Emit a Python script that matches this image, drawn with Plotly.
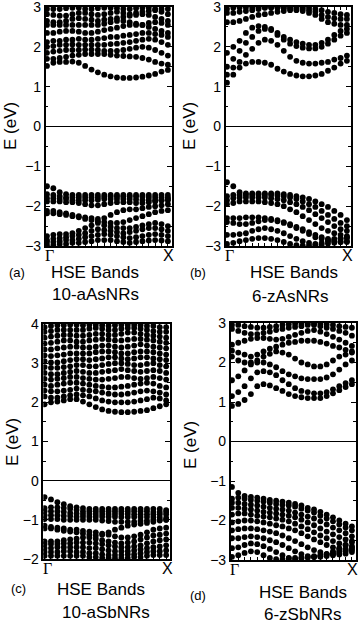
import plotly.graph_objects as go

# k-point index along Gamma -> X
k = list(range(20))

# (a) 10-aAsNRs
a_cond = [
    [1.52, 1.60, 1.62, 1.62, 1.63, 1.60, 1.52, 1.43, 1.36, 1.30, 1.26, 1.23, 1.22, 1.22, 1.23, 1.25, 1.28, 1.32, 1.38, 1.42],
    [1.70, 1.70, 1.72, 1.75, 1.78, 1.80, 1.82, 1.82, 1.82, 1.82, 1.80, 1.78, 1.77, 1.76, 1.75, 1.72, 1.68, 1.62, 1.58, 1.55],
    [1.85, 1.88, 1.90, 1.92, 1.92, 1.92, 1.93, 1.93, 1.92, 1.90, 1.90, 1.90, 1.92, 1.95, 1.98, 2.00, 1.98, 1.92, 1.85, 1.78],
    [2.00, 2.02, 2.05, 2.05, 2.06, 2.05, 2.05, 2.05, 2.05, 2.05, 2.07, 2.08, 2.10, 2.12, 2.15, 2.18, 2.20, 2.18, 2.12, 2.05],
    [2.12, 2.15, 2.15, 2.18, 2.18, 2.20, 2.18, 2.18, 2.20, 2.22, 2.25, 2.25, 2.28, 2.30, 2.32, 2.35, 2.35, 2.32, 2.30, 2.25],
    [2.35, 2.35, 2.38, 2.40, 2.40, 2.38, 2.35, 2.35, 2.38, 2.42, 2.45, 2.48, 2.52, 2.55, 2.55, 2.55, 2.50, 2.45, 2.40, 2.35],
    [2.55, 2.55, 2.55, 2.55, 2.55, 2.55, 2.55, 2.55, 2.55, 2.58, 2.62, 2.65, 2.65, 2.62, 2.58, 2.55, 2.60, 2.62, 2.60, 2.55],
    [2.65, 2.62, 2.62, 2.65, 2.70, 2.72, 2.70, 2.68, 2.65, 2.68, 2.70, 2.72, 2.75, 2.78, 2.80, 2.82, 2.80, 2.75, 2.70, 2.65],
    [2.82, 2.80, 2.78, 2.78, 2.82, 2.85, 2.85, 2.82, 2.80, 2.82, 2.85, 2.88, 2.85, 2.82, 2.85, 2.88, 2.90, 2.92, 2.88, 2.82],
    [2.95, 2.95, 2.95, 2.97, 2.98, 2.98, 2.95, 2.95, 2.97, 2.98, 2.98, 2.97, 2.95, 2.95, 2.97, 2.98, 2.98, 2.95, 2.95, 2.95],
]
a_val = [
    [-1.50, -1.55, -1.65, -1.70, -1.72, -1.72, -1.72, -1.72, -1.72, -1.72, -1.72, -1.72, -1.72, -1.72, -1.72, -1.72, -1.72, -1.72, -1.72, -1.72],
    [-1.70, -1.72, -1.75, -1.78, -1.78, -1.78, -1.78, -1.78, -1.78, -1.77, -1.76, -1.76, -1.76, -1.76, -1.76, -1.76, -1.78, -1.78, -1.78, -1.78],
    [-1.80, -1.80, -1.82, -1.82, -1.85, -1.85, -1.85, -1.85, -1.84, -1.82, -1.82, -1.82, -1.82, -1.82, -1.83, -1.84, -1.85, -1.85, -1.85, -1.85],
    [-1.88, -1.88, -1.88, -1.90, -1.90, -1.92, -1.95, -1.98, -1.98, -1.95, -1.92, -1.90, -1.90, -1.90, -1.92, -1.92, -1.90, -1.88, -1.85, -1.82],
    [-2.12, -2.12, -2.15, -2.18, -2.22, -2.25, -2.28, -2.30, -2.32, -2.30, -2.22, -2.15, -2.10, -2.08, -2.08, -2.05, -2.02, -2.00, -1.98, -1.95],
    [-2.18, -2.18, -2.20, -2.22, -2.25, -2.28, -2.32, -2.35, -2.38, -2.40, -2.42, -2.42, -2.40, -2.35, -2.30, -2.25, -2.20, -2.15, -2.12, -2.10],
    [-2.75, -2.72, -2.70, -2.70, -2.68, -2.62, -2.55, -2.48, -2.42, -2.48, -2.52, -2.55, -2.55, -2.55, -2.52, -2.48, -2.45, -2.42, -2.45, -2.50],
    [-2.85, -2.82, -2.80, -2.78, -2.75, -2.72, -2.68, -2.62, -2.58, -2.60, -2.62, -2.65, -2.68, -2.65, -2.62, -2.58, -2.55, -2.55, -2.58, -2.62],
    [-2.90, -2.90, -2.88, -2.85, -2.85, -2.82, -2.78, -2.75, -2.72, -2.70, -2.72, -2.75, -2.78, -2.80, -2.78, -2.75, -2.72, -2.70, -2.72, -2.75],
    [-2.98, -2.98, -2.95, -2.95, -2.92, -2.92, -2.90, -2.88, -2.85, -2.85, -2.85, -2.88, -2.90, -2.92, -2.90, -2.88, -2.86, -2.85, -2.86, -2.88],
]

# (b) 6-zAsNRs
b_cond = [
    [1.10, 1.30, 1.48, 1.58, 1.62, 1.62, 1.60, 1.55, 1.45, 1.38, 1.32, 1.28, 1.26, 1.26, 1.28, 1.32, 1.40, 1.48, 1.58, 1.65],
    [1.30, 1.48, 1.62, 1.80, 1.95, 2.10, 2.18, 2.15, 2.05, 1.90, 1.75, 1.65, 1.60, 1.58, 1.58, 1.60, 1.62, 1.68, 1.72, 1.78],
    [1.50, 1.70, 1.90, 2.10, 2.25, 2.40, 2.45, 2.42, 2.30, 2.18, 2.08, 2.02, 1.98, 1.96, 1.96, 2.00, 2.08, 2.18, 2.28, 2.35],
    [1.85, 2.00, 2.15, 2.35, 2.48, 2.52, 2.50, 2.45, 2.35, 2.25, 2.18, 2.12, 2.08, 2.05, 2.05, 2.10, 2.18, 2.30, 2.40, 2.45],
    [2.62, 2.62, 2.65, 2.70, 2.75, 2.80, 2.82, 2.85, 2.88, 2.90, 2.92, 2.92, 2.90, 2.85, 2.80, 2.70, 2.62, 2.58, 2.55, 2.55],
    [2.85, 2.85, 2.88, 2.90, 2.92, 2.95, 2.98, 2.99, 2.98, 2.97, 2.96, 2.95, 2.95, 2.92, 2.88, 2.80, 2.75, 2.72, 2.70, 2.70],
    [2.95, 2.98, 2.99, 2.99, 2.99, 2.99, 2.99, 2.99, 2.99, 2.99, 2.99, 2.99, 2.99, 2.98, 2.95, 2.92, 2.88, 2.85, 2.82, 2.80],
]
b_val = [
    [-1.40, -1.50, -1.65, -1.68, -1.68, -1.68, -1.68, -1.68, -1.68, -1.70, -1.72, -1.75, -1.78, -1.82, -1.88, -1.95, -2.02, -2.12, -2.22, -2.35],
    [-1.75, -1.72, -1.72, -1.72, -1.72, -1.72, -1.72, -1.72, -1.73, -1.75, -1.78, -1.82, -1.88, -1.95, -2.02, -2.12, -2.22, -2.32, -2.42, -2.50],
    [-1.85, -1.80, -1.78, -1.78, -1.78, -1.78, -1.78, -1.80, -1.82, -1.85, -1.90, -1.95, -2.02, -2.10, -2.20, -2.30, -2.40, -2.50, -2.58, -2.62],
    [-1.95, -1.92, -1.88, -1.88, -1.88, -1.88, -1.90, -1.92, -1.95, -2.00, -2.08, -2.15, -2.25, -2.35, -2.45, -2.55, -2.62, -2.68, -2.72, -2.75],
    [-2.30, -2.30, -2.30, -2.28, -2.28, -2.28, -2.30, -2.32, -2.35, -2.40, -2.48, -2.55, -2.62, -2.70, -2.78, -2.82, -2.85, -2.88, -2.90, -2.90],
    [-2.40, -2.42, -2.45, -2.45, -2.42, -2.38, -2.35, -2.35, -2.38, -2.42, -2.45, -2.52, -2.58, -2.65, -2.72, -2.78, -2.82, -2.82, -2.80, -2.78],
    [-2.72, -2.72, -2.70, -2.68, -2.62, -2.58, -2.55, -2.58, -2.62, -2.68, -2.75, -2.82, -2.88, -2.92, -2.95, -2.92, -2.88, -2.85, -2.82, -2.80],
    [-2.95, -2.92, -2.88, -2.85, -2.82, -2.80, -2.80, -2.82, -2.85, -2.90, -2.95, -2.98, -2.99, -2.99, -2.98, -2.96, -2.94, -2.92, -2.90, -2.88],
]

# (c) 10-aSbNRs
c_cond = [
    [1.95, 2.00, 2.02, 2.05, 2.08, 2.08, 2.02, 1.95, 1.88, 1.82, 1.78, 1.76, 1.75, 1.75, 1.76, 1.78, 1.80, 1.85, 1.90, 1.95],
    [2.15, 2.12, 2.12, 2.15, 2.18, 2.20, 2.18, 2.15, 2.10, 2.05, 2.02, 2.00, 2.00, 2.00, 2.02, 2.05, 2.08, 2.12, 2.10, 2.05],
    [2.30, 2.28, 2.28, 2.30, 2.32, 2.35, 2.32, 2.30, 2.28, 2.25, 2.22, 2.20, 2.20, 2.22, 2.25, 2.28, 2.30, 2.28, 2.25, 2.20],
    [2.45, 2.42, 2.45, 2.48, 2.50, 2.50, 2.48, 2.45, 2.42, 2.40, 2.38, 2.38, 2.40, 2.42, 2.45, 2.48, 2.50, 2.48, 2.42, 2.38],
    [2.60, 2.58, 2.60, 2.62, 2.65, 2.65, 2.62, 2.60, 2.58, 2.58, 2.60, 2.62, 2.65, 2.65, 2.62, 2.60, 2.62, 2.65, 2.62, 2.58],
    [2.75, 2.72, 2.72, 2.75, 2.78, 2.80, 2.78, 2.75, 2.75, 2.78, 2.80, 2.82, 2.85, 2.82, 2.80, 2.78, 2.80, 2.82, 2.80, 2.75],
    [2.90, 2.88, 2.88, 2.90, 2.92, 2.95, 2.95, 2.92, 2.92, 2.95, 2.98, 3.00, 3.00, 2.98, 2.95, 2.95, 2.98, 3.00, 2.95, 2.92],
    [3.05, 3.02, 3.02, 3.05, 3.08, 3.10, 3.10, 3.08, 3.10, 3.12, 3.15, 3.15, 3.12, 3.10, 3.12, 3.15, 3.15, 3.12, 3.10, 3.08],
    [3.20, 3.18, 3.20, 3.22, 3.25, 3.25, 3.25, 3.25, 3.28, 3.30, 3.30, 3.28, 3.25, 3.25, 3.28, 3.30, 3.30, 3.28, 3.25, 3.22],
    [3.35, 3.35, 3.38, 3.40, 3.42, 3.42, 3.40, 3.40, 3.42, 3.45, 3.45, 3.42, 3.40, 3.42, 3.45, 3.48, 3.45, 3.42, 3.40, 3.38],
    [3.50, 3.52, 3.55, 3.58, 3.58, 3.55, 3.55, 3.58, 3.60, 3.62, 3.60, 3.58, 3.58, 3.60, 3.62, 3.62, 3.60, 3.58, 3.55, 3.52],
    [3.65, 3.68, 3.70, 3.72, 3.72, 3.70, 3.70, 3.72, 3.75, 3.75, 3.72, 3.72, 3.75, 3.78, 3.78, 3.75, 3.72, 3.70, 3.68, 3.65],
    [3.80, 3.82, 3.85, 3.85, 3.85, 3.85, 3.85, 3.88, 3.90, 3.88, 3.85, 3.85, 3.88, 3.90, 3.90, 3.88, 3.85, 3.82, 3.80, 3.80],
    [3.92, 3.95, 3.97, 3.97, 3.98, 3.98, 3.97, 3.98, 3.98, 3.97, 3.95, 3.97, 3.98, 3.98, 3.98, 3.97, 3.95, 3.95, 3.92, 3.92],
]
c_val = [
    [-0.42, -0.48, -0.55, -0.60, -0.65, -0.68, -0.70, -0.72, -0.72, -0.72, -0.72, -0.72, -0.72, -0.72, -0.72, -0.72, -0.72, -0.72, -0.72, -0.75],
    [-0.70, -0.68, -0.68, -0.70, -0.72, -0.75, -0.78, -0.78, -0.78, -0.78, -0.78, -0.78, -0.78, -0.78, -0.78, -0.78, -0.78, -0.80, -0.80, -0.80],
    [-0.78, -0.78, -0.78, -0.80, -0.82, -0.84, -0.85, -0.85, -0.85, -0.85, -0.85, -0.85, -0.85, -0.85, -0.86, -0.86, -0.86, -0.86, -0.86, -0.86],
    [-0.88, -0.88, -0.88, -0.90, -0.90, -0.92, -0.92, -0.92, -0.92, -0.92, -0.92, -0.92, -0.93, -0.93, -0.93, -0.93, -0.93, -0.93, -0.94, -0.95],
    [-0.98, -0.98, -0.98, -1.00, -1.00, -1.00, -1.00, -1.00, -1.00, -1.02, -1.03, -1.05, -1.05, -1.05, -1.05, -1.03, -1.02, -1.00, -1.00, -1.00],
    [-1.22, -1.22, -1.25, -1.28, -1.30, -1.32, -1.35, -1.38, -1.40, -1.38, -1.32, -1.25, -1.20, -1.15, -1.12, -1.10, -1.08, -1.05, -1.02, -1.00],
    [-1.15, -1.18, -1.20, -1.22, -1.25, -1.25, -1.28, -1.30, -1.32, -1.35, -1.38, -1.42, -1.45, -1.45, -1.42, -1.38, -1.32, -1.25, -1.22, -1.20],
    [-1.55, -1.55, -1.55, -1.52, -1.50, -1.48, -1.45, -1.45, -1.48, -1.52, -1.55, -1.58, -1.60, -1.58, -1.55, -1.50, -1.45, -1.40, -1.38, -1.35],
    [-1.62, -1.62, -1.62, -1.60, -1.60, -1.58, -1.58, -1.58, -1.60, -1.62, -1.65, -1.68, -1.70, -1.70, -1.68, -1.65, -1.60, -1.55, -1.52, -1.50],
    [-1.72, -1.72, -1.70, -1.70, -1.70, -1.70, -1.70, -1.72, -1.72, -1.75, -1.78, -1.80, -1.80, -1.80, -1.78, -1.75, -1.72, -1.70, -1.68, -1.65],
    [-1.82, -1.82, -1.82, -1.80, -1.80, -1.82, -1.82, -1.85, -1.85, -1.88, -1.90, -1.90, -1.90, -1.88, -1.88, -1.85, -1.82, -1.80, -1.80, -1.78],
    [-1.92, -1.92, -1.92, -1.92, -1.92, -1.92, -1.92, -1.95, -1.95, -1.97, -1.98, -1.98, -1.98, -1.97, -1.95, -1.95, -1.92, -1.90, -1.90, -1.90],
]

# (d) 6-zSbNRs
d_cond = [
    [0.90, 0.95, 1.05, 1.20, 1.40, 1.45, 1.42, 1.35, 1.28, 1.20, 1.15, 1.12, 1.10, 1.10, 1.10, 1.15, 1.22, 1.30, 1.38, 1.45],
    [1.15, 1.25, 1.40, 1.60, 1.75, 1.78, 1.75, 1.68, 1.55, 1.45, 1.35, 1.28, 1.25, 1.22, 1.22, 1.25, 1.32, 1.40, 1.48, 1.55],
    [1.55, 1.65, 1.80, 1.95, 2.00, 2.00, 1.95, 1.88, 1.78, 1.70, 1.65, 1.60, 1.58, 1.58, 1.58, 1.62, 1.70, 1.82, 1.95, 2.05],
    [2.15, 2.05, 2.00, 2.00, 2.05, 2.15, 2.22, 2.28, 2.25, 2.20, 2.10, 2.00, 1.95, 1.90, 1.90, 1.95, 2.05, 2.15, 2.20, 2.25],
    [2.30, 2.25, 2.20, 2.15, 2.20, 2.28, 2.35, 2.40, 2.45, 2.50, 2.52, 2.55, 2.55, 2.55, 2.52, 2.48, 2.42, 2.38, 2.32, 2.28],
    [2.45, 2.50, 2.55, 2.60, 2.62, 2.62, 2.60, 2.58, 2.60, 2.65, 2.70, 2.75, 2.80, 2.82, 2.78, 2.72, 2.65, 2.58, 2.50, 2.42],
    [2.85, 2.80, 2.75, 2.72, 2.72, 2.75, 2.78, 2.82, 2.85, 2.88, 2.90, 2.92, 2.95, 2.95, 2.92, 2.88, 2.85, 2.80, 2.75, 2.68],
    [2.95, 2.95, 2.92, 2.90, 2.88, 2.88, 2.90, 2.92, 2.95, 2.97, 2.98, 2.98, 2.98, 2.98, 2.98, 2.96, 2.95, 2.92, 2.90, 2.88],
]
d_val = [
    [-1.15, -1.30, -1.38, -1.40, -1.42, -1.45, -1.48, -1.50, -1.52, -1.55, -1.58, -1.62, -1.68, -1.72, -1.78, -1.85, -1.92, -2.00, -2.08, -2.15],
    [-1.45, -1.42, -1.45, -1.48, -1.50, -1.52, -1.55, -1.58, -1.60, -1.62, -1.65, -1.70, -1.75, -1.80, -1.88, -1.95, -2.02, -2.10, -2.18, -2.25],
    [-1.55, -1.55, -1.58, -1.60, -1.62, -1.65, -1.68, -1.70, -1.72, -1.75, -1.80, -1.85, -1.90, -1.95, -2.02, -2.10, -2.18, -2.25, -2.32, -2.40],
    [-1.68, -1.68, -1.70, -1.72, -1.75, -1.78, -1.80, -1.82, -1.85, -1.88, -1.92, -1.98, -2.05, -2.12, -2.20, -2.28, -2.35, -2.42, -2.48, -2.52],
    [-1.85, -1.82, -1.82, -1.85, -1.88, -1.90, -1.92, -1.95, -1.98, -2.02, -2.08, -2.15, -2.22, -2.30, -2.38, -2.45, -2.52, -2.58, -2.62, -2.65],
    [-2.05, -2.02, -2.00, -2.00, -2.02, -2.05, -2.08, -2.12, -2.15, -2.20, -2.25, -2.32, -2.40, -2.48, -2.55, -2.62, -2.68, -2.72, -2.75, -2.75],
    [-2.25, -2.22, -2.20, -2.20, -2.22, -2.25, -2.28, -2.32, -2.38, -2.45, -2.52, -2.60, -2.68, -2.75, -2.80, -2.85, -2.85, -2.82, -2.78, -2.72],
    [-2.45, -2.45, -2.42, -2.40, -2.42, -2.45, -2.50, -2.55, -2.62, -2.70, -2.78, -2.85, -2.90, -2.92, -2.90, -2.85, -2.78, -2.70, -2.62, -2.55],
    [-2.70, -2.68, -2.62, -2.58, -2.60, -2.65, -2.72, -2.80, -2.88, -2.95, -2.98, -2.95, -2.92, -2.90, -2.88, -2.85, -2.82, -2.78, -2.72, -2.68],
    [-2.92, -2.88, -2.82, -2.78, -2.80, -2.88, -2.95, -2.98, -2.98, -2.96, -2.95, -2.95, -2.94, -2.93, -2.92, -2.90, -2.88, -2.86, -2.84, -2.80],
]

W, H = 358, 627
FONT = "Liberation Sans, Arial, sans-serif"

# panel boxes in pixels: (left, right, top, bottom), energy range, bands
panels = [
    ("", (45.7, 171.7, 7, 246), (-3, 3), a_cond + a_val),
    ("2", (225.7, 350.7, 7, 246), (-3, 3), b_cond + b_val),
    ("3", (43.3, 170.0, 324, 559), (-2, 4), c_cond + c_val),
    ("4", (230.7, 355.7, 323, 560), (-3, 3), d_cond + d_val),
]

fig = go.Figure()
layout = dict(
    width=W, height=H, margin=dict(l=0, r=0, t=0, b=0, pad=0, autoexpand=False),
    paper_bgcolor="white", plot_bgcolor="white", showlegend=False,
    font=dict(family=FONT, color="black"),
)

for sfx, (l, r, t, b), yr, bands in panels:
    for band in bands:
        fig.add_trace(go.Scatter(
            x=k, y=band, mode="markers",
            marker=dict(color="black", size=5.8),
            xaxis="x" + sfx, yaxis="y" + sfx, hoverinfo="skip",
        ))
    layout["xaxis" + sfx] = dict(
        domain=[l / W, r / W], range=[-0.2, 19.6], anchor="y" + sfx, automargin=False,
        showgrid=False, zeroline=False, showline=True, linecolor="black", linewidth=1.5,
        mirror="ticks", ticks="inside", ticklen=3, tickwidth=1, tickcolor="black",
        dtick=1, showticklabels=False,
    )
    layout["yaxis" + sfx] = dict(
        domain=[1 - b / H, 1 - t / H], range=list(yr), anchor="x" + sfx, automargin=False,
        showgrid=False, zeroline=True, zerolinecolor="black", zerolinewidth=1.2,
        showline=True, linecolor="black", linewidth=1.5, mirror="ticks",
        ticks="inside", ticklen=5, tickwidth=1, tickcolor="black", dtick=1,
        tickfont=dict(size=14, family=FONT, color="black"), ticklabeloverflow="allow",
        minor=dict(ticks="inside", ticklen=3, dtick=0.5, tickcolor="black"),
    )

fig.update_layout(**layout)


def note(text, xp, yp, size, angle=0, family=FONT):
    fig.add_annotation(text=text, x=xp / W, y=1 - yp / H, xref="paper", yref="paper",
                       xanchor="center", yanchor="middle", showarrow=False, textangle=angle,
                       font=dict(size=size, family=family, color="black"))


# k labels
for sfx, (l, r, t, b), yr, bands in panels:
    note("Γ", l + 4, b + 9, 16, family="Liberation Serif, Times New Roman, serif")
    note("X", r - 3, b + 9, 16)

# axis titles
note("E (eV)", 11, 126, 17, angle=-90)
note("E (eV)", 190, 126, 17, angle=-90)
note("E (eV)", 12, 442, 17, angle=-90)
note("E (eV)", 190, 445, 17, angle=-90)

# panel captions
note("(a)", 17, 272, 13)
note("HSE Bands", 95, 272, 17)
note("10-aAsNRs", 95, 294, 17)
note("(b)", 198, 272, 13)
note("HSE Bands", 294, 272, 17)
note("6-zAsNRs", 290, 296, 17)
note("(c)", 18, 588, 13)
note("HSE Bands", 101, 589, 17)
note("10-aSbNRs", 106, 612, 17)
note("(d)", 198, 595, 13)
note("HSE Bands", 303, 592, 17)
note("6-zSbNRs", 302, 614, 17)

fig.write_html("out.html", config={"displayModeBar": False},
               post_script="document.body.style.margin='0';")
